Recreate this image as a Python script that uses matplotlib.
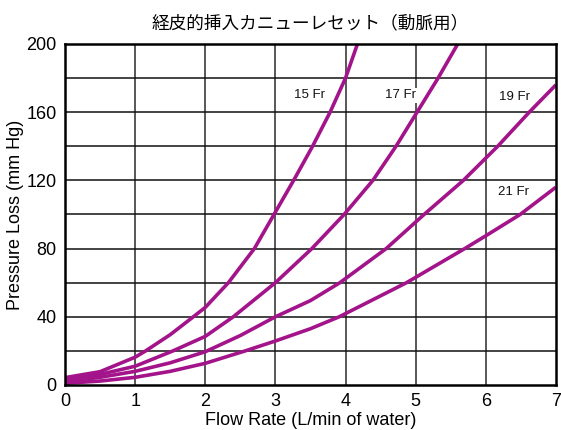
import matplotlib
matplotlib.use("Agg")
import matplotlib.pyplot as plt

title = "経皮的挿入カニューレセット（動脈用）"
xlabel = "Flow Rate (L/min of water)"
ylabel = "Pressure Loss (mm Hg)"

x15 = [0, 0.5, 1, 1.15, 1.5, 1.83, 2.0, 2.33, 2.70, 2.98, 3.26, 3.53, 3.78, 4.0, 4.17]
y15 = [4.3, 7.8, 16.3, 20, 29.5, 40, 45.5, 60, 80, 100, 120, 140, 160, 180, 200]

x17 = [0, 0.5, 1, 1.54, 2.0, 2.4, 3.0, 3.52, 3.98, 4.39, 4.72, 5.02, 5.32, 5.6]
y17 = [3, 6.2, 11, 20, 28.5, 40, 60, 80, 100, 120, 140, 160, 180, 200]

x19 = [0, 0.5, 1, 1.5, 2, 2.5, 3, 3.5, 3.92, 4.58, 5.12, 5.68, 6.17, 6.62, 7]
y19 = [2, 4.5, 8, 13, 19.5, 29, 40, 49.5, 60, 80, 100, 120, 140, 160, 176]

x21 = [0, 0.5, 1, 1.5, 2, 2.57, 3, 3.5, 3.91, 4.87, 5.70, 6.0, 6.49, 7]
y21 = [1, 2.3, 4.5, 8, 12.7, 20, 25.8, 33, 40, 60, 80, 87.5, 100, 116]

labels = ["15 Fr", "17 Fr", "19 Fr", "21 Fr"]
label_pos = [(3.48, 170), (4.79, 170), (6.41, 169), (6.4, 113)]

xticks = [0, 1, 2, 3, 4, 5, 6, 7]
yticks = [0, 40, 80, 120, 160, 200]

plt.rcParams['font.family'] = ['Liberation Sans', 'Noto Sans CJK JP', 'DejaVu Sans']

fig = plt.figure(figsize=(5.61, 4.30), dpi=100)
ax = fig.add_axes([0.1159, 0.1047, 0.875, 0.7930])

color = "#A3148A"

# grid
for xv in range(1, 7):
    ax.axvline(xv, color="#4a4a4a", lw=1.3, zorder=1)
for yv in range(20, 200, 20):
    ax.axhline(yv, color="#111111", lw=1.1, zorder=1)

for xs, ys in [(x15, y15), (x17, y17), (x19, y19), (x21, y21)]:
    ax.plot(xs, ys, color=color, lw=2.6, solid_joinstyle="round",
            solid_capstyle="butt", zorder=3, clip_on=True)

for lab, (lx, ly) in zip(labels, label_pos):
    ax.text(lx, ly, lab, ha="center", va="center", fontsize=9.5, color="#111111",
            bbox=dict(fc="white", ec="none", pad=1.0), zorder=2)

ax.set_xlim(0, 7)
ax.set_ylim(0, 200)
ax.set_xticks(xticks)
ax.set_yticks(yticks)
ax.tick_params(axis="x", length=0, labelsize=13, pad=6)
ax.tick_params(axis="y", length=0, labelsize=13, pad=6)
for s in ax.spines.values():
    s.set_linewidth(1.8)
    s.set_color("black")
    s.set_zorder(5)

ax.set_xlabel(xlabel, fontsize=13, labelpad=1)
ax.set_ylabel(ylabel, fontsize=13, labelpad=2)
ax.set_title(title, fontsize=12.7, pad=11, family=['Noto Sans CJK JP', 'DejaVu Sans'])

fig.savefig("out.png", dpi=100)
